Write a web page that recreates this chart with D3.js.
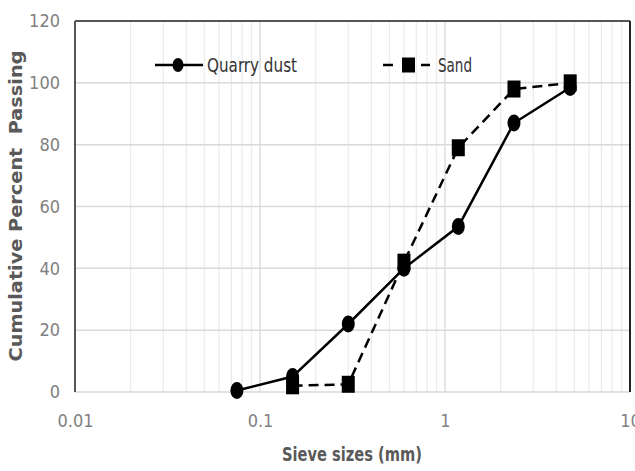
<!DOCTYPE html>
<html><head><meta charset="utf-8">
<script src="https://cdn.jsdelivr.net/npm/d3@7/dist/d3.min.js"></script>
<style>body{margin:0;background:#fff}svg{display:block}</style>
</head><body>
<script>
const sieveQuarry = [0.075, 0.15, 0.3, 0.6, 1.18, 2.36, 4.75];
const passQuarry = [0.5, 5, 22, 40, 53.5, 87, 98.5];
const sieveSand = [0.15, 0.3, 0.6, 1.18, 2.36, 4.75];
const passSand = [2, 2.5, 42, 79, 98, 100];
const yTicks = [0, 20, 40, 60, 80, 100, 120];
const xTicks = [0.01, 0.1, 1, 10];
const seriesNames = ["Quarry dust", "Sand"];

const W = 635, H = 471;
const m = {l: 75, r: 5, t: 21, b: 79};
const svg = d3.select("body").append("svg").attr("width", W).attr("height", H);
const x = d3.scaleLog().domain([0.01, 10]).range([m.l, W - m.r]);
const y = d3.scaleLinear().domain([0, 120]).range([H - m.b, m.t]);
const font = "'Liberation Sans Narrow','DejaVu Sans Condensed','Liberation Sans',sans-serif";

// minor vertical grid
const minor = [];
[0.01, 0.1, 1].forEach(d => { for (let k = 2; k <= 9; k++) minor.push(d * k); });
svg.append("g").selectAll("line").data(minor.concat([0.1, 1])).join("line")
  .attr("x1", d => x(d)).attr("x2", d => x(d))
  .attr("y1", y(120)).attr("y2", y(0))
  .attr("stroke", d => (d === 0.1 || d === 1) ? "#d9d9d9" : "#ececec").attr("stroke-width", 1.3);
// horizontal grid
svg.append("g").selectAll("line").data(yTicks).join("line")
  .attr("x1", x(0.01)).attr("x2", x(10))
  .attr("y1", d => y(d)).attr("y2", d => y(d))
  .attr("stroke", "#d9d9d9").attr("stroke-width", 1.5);

// borders
svg.append("line").attr("x1", x(0.01)).attr("x2", x(10)).attr("y1", y(120)).attr("y2", y(120))
  .attr("stroke", "#555").attr("stroke-width", 2);
svg.append("line").attr("x1", x(10)).attr("x2", x(10)).attr("y1", y(120)).attr("y2", y(0))
  .attr("stroke", "#222").attr("stroke-width", 2);
svg.append("line").attr("x1", x(0.01)).attr("x2", x(0.01)).attr("y1", y(120)).attr("y2", y(0))
  .attr("stroke", "#555").attr("stroke-width", 2);

// axes (labels only)
const yAx = svg.append("g").attr("transform", `translate(${m.l},0)`)
  .call(d3.axisLeft(y).tickValues(yTicks).tickSize(0).tickPadding(15));
const xAx = svg.append("g").attr("transform", `translate(0,${y(0)})`)
  .call(d3.axisBottom(x).tickValues(xTicks).tickFormat(d3.format("")).tickSize(0).tickPadding(22));
[yAx, xAx].forEach(g => {
  g.select(".domain").remove();
  g.selectAll("text").attr("font-family", font).attr("font-size", 18).attr("fill", "#7f7f7f");
});

// lines
const line = d3.line().x(d => x(d[0])).y(d => y(d[1]));
const qd = sieveQuarry.map((s, i) => [s, passQuarry[i]]);
const sd = sieveSand.map((s, i) => [s, passSand[i]]);
svg.append("path").datum(sd).attr("d", line).attr("fill", "none")
  .attr("stroke", "#000").attr("stroke-width", 2.5).attr("stroke-dasharray", "10,6");
svg.append("path").datum(qd).attr("d", line).attr("fill", "none")
  .attr("stroke", "#000").attr("stroke-width", 2.5);
svg.append("g").selectAll("rect").data(sd).join("rect")
  .attr("x", d => x(d[0]) - 6.5).attr("y", d => y(d[1]) - 8.5)
  .attr("width", 13).attr("height", 17).attr("fill", "#000");
svg.append("g").selectAll("ellipse").data(qd).join("ellipse")
  .attr("cx", d => x(d[0])).attr("cy", d => y(d[1])).attr("rx", 6.5).attr("ry", 8.5).attr("fill", "#000");

// legend
const ly = 65;
svg.append("line").attr("x1", 155).attr("x2", 203).attr("y1", ly).attr("y2", ly).attr("stroke", "#000").attr("stroke-width", 2.5);
svg.append("ellipse").attr("cx", 178).attr("cy", ly).attr("rx", 5.5).attr("ry", 7).attr("fill", "#000");
svg.append("text").attr("x", 207).attr("y", ly + 7).text(seriesNames[0])
  .attr("font-family", font).attr("font-size", 19).attr("fill", "#333")
  .attr("textLength", 90).attr("lengthAdjust", "spacingAndGlyphs");
svg.append("line").attr("x1", 383).attr("x2", 430).attr("y1", ly).attr("y2", ly).attr("stroke", "#000")
  .attr("stroke-width", 2.5).attr("stroke-dasharray", "10,9");
svg.append("rect").attr("x", 402).attr("y", ly - 7.5).attr("width", 13).attr("height", 15).attr("fill", "#000");
svg.append("text").attr("x", 438).attr("y", ly + 7).text(seriesNames[1])
  .attr("font-family", font).attr("font-size", 19).attr("fill", "#333")
  .attr("textLength", 34).attr("lengthAdjust", "spacingAndGlyphs");

// axis titles
svg.append("text").attr("x", 352).attr("y", 461).attr("text-anchor", "middle")
  .text("Sieve sizes (mm)").attr("font-family", font).attr("font-weight", "bold")
  .attr("font-size", 19).attr("fill", "#595959")
  .attr("textLength", 140).attr("lengthAdjust", "spacingAndGlyphs");
svg.append("text").attr("transform", "translate(22,206) rotate(-90)").attr("text-anchor", "middle")
  .text("Cumulative Percent  Passing").attr("xml:space", "preserve").style("white-space", "pre")
  .attr("font-family", font).attr("font-weight", "bold")
  .attr("font-size", 18).attr("fill", "#595959")
  .attr("textLength", 311).attr("lengthAdjust", "spacingAndGlyphs");
</script>
</body></html>
